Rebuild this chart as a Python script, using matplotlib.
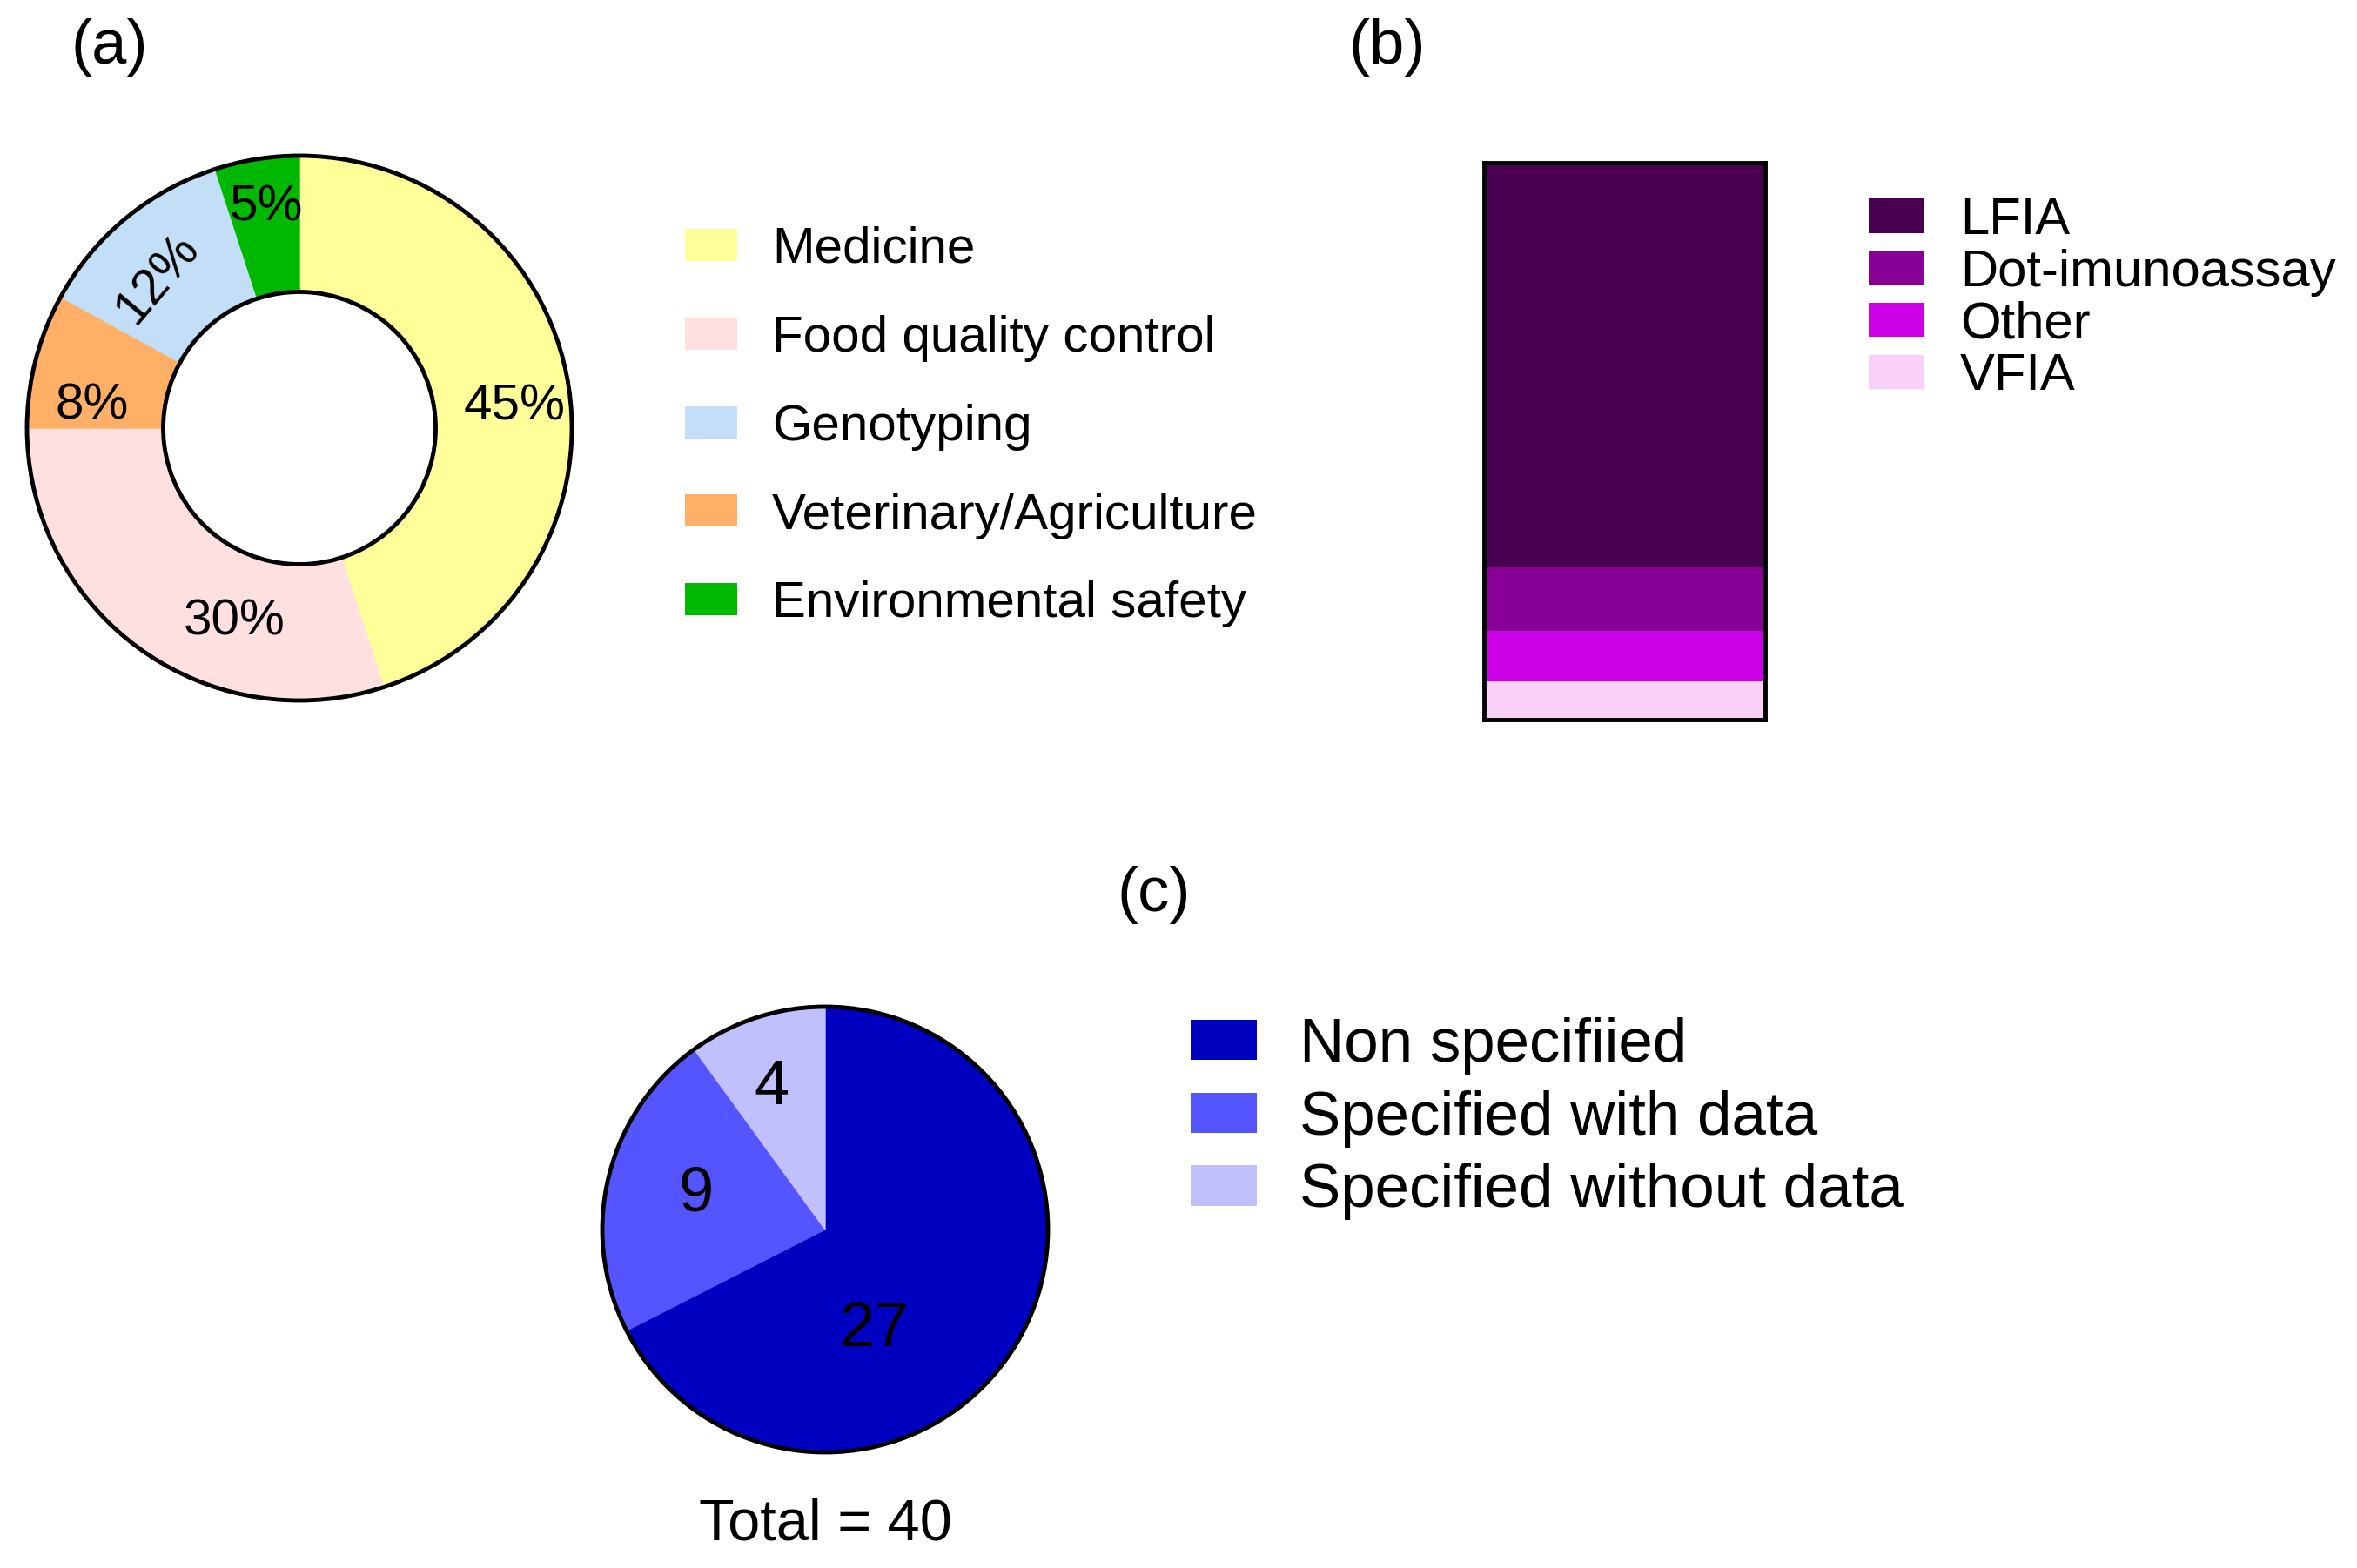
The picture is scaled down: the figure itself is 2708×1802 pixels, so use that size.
import matplotlib
matplotlib.use('Agg')
import matplotlib.pyplot as plt
from matplotlib.patches import Circle, Patch

plt.rcParams['font.family'] = ['Liberation Sans', 'DejaVu Sans']

W, H = 2708, 1802

# (a) application fields, clockwise from 12 o'clock
a_fields = ['Medicine', 'Food quality control', 'Veterinary/Agriculture',
            'Genotyping', 'Environmental safety']
a_pct = [45, 30, 8, 12, 5]
a_legend_order = ['Medicine', 'Food quality control', 'Genotyping',
                  'Veterinary/Agriculture', 'Environmental safety']
a_colors = {'Medicine': '#FFFF99', 'Food quality control': '#FFE0E0',
            'Genotyping': '#C2DFF7', 'Veterinary/Agriculture': '#FFB066',
            'Environmental safety': '#00B800'}

# (b) assay formats
b_methods = ['LFIA', 'Dot-imunoassay', 'Other', 'VFIA']
b_counts = [32, 5, 4, 3]
b_colors = ['#4A0050', '#880096', '#CC00E6', '#F8D0F8']

# (c) reporting of results
c_groups = ['Non specifiied', 'Specified with data', 'Specified without data']
c_counts = [27, 9, 4]
c_colors = ['#0000C0', '#5555FF', '#C0C0FF']

# label layout (fraction of radius), not data
a_label_xy = [(0.79, 0.077), (-0.24, -0.71), (-0.76, 0.083), (-0.52, 0.55), (-0.12, 0.81)]
a_label_rot = [0, 0, 0, 50, 0]
c_label_xy = [(0.22, -0.45), (-0.58, 0.155), (-0.24, 0.635)]

fig = plt.figure(figsize=(W / 100, H / 100), dpi=100)


def px_axes(cx, cy, half):
    return fig.add_axes([(cx - half) / W, (H - cy - half) / H, 2 * half / W, 2 * half / H])


# ---- (a) donut
r_a = 313
ax_a = px_axes(344, 492, 340)
wedges, _, autotexts = ax_a.pie(a_pct, colors=[a_colors[n] for n in a_fields],
                                startangle=90, counterclock=False, radius=1,
                                wedgeprops=dict(width=0.5), autopct='%d%%',
                                pctdistance=0.75, textprops=dict(fontsize=42))
for w in wedges:
    w.set_edgecolor(w.get_facecolor())
    w.set_linewidth(1)
for t, xy, rot in zip(autotexts, a_label_xy, a_label_rot):
    t.set_position(xy)
    t.set_rotation(rot)
ax_a.add_patch(Circle((0, 0), 1, fill=False, ec='black', lw=3.5))
ax_a.add_patch(Circle((0, 0), 0.5, fill=False, ec='black', lw=3.5))
lim = 340 / r_a
ax_a.set_xlim(-lim, lim)
ax_a.set_ylim(-lim, lim)
ax_a.set_aspect('equal')
ax_a.axis('off')

fig.legend(handles=[Patch(fc=a_colors[n], label=n) for n in a_legend_order],
           loc='upper left', bbox_to_anchor=(787 / W, 1 - 260 / H),
           bbox_transform=fig.transFigure, frameon=False, fontsize=42,
           handlelength=1.02, handleheight=0.6, handletextpad=0.69,
           labelspacing=0.82, borderpad=0, borderaxespad=0)

# ---- (b) stacked bar
ax_b = fig.add_axes([1705 / W, 1 - 827 / H, 323 / W, 640 / H])
bars = {}
bottom = 0
for name, cnt, col in reversed(list(zip(b_methods, b_counts, b_colors))):
    bars[name] = ax_b.bar(0, cnt, bottom=bottom, width=1, color=col, label=name)
    bottom += cnt
ax_b.set_xlim(-0.5, 0.5)
ax_b.set_ylim(0, sum(b_counts))
ax_b.set_xticks([])
ax_b.set_yticks([])
for s in ax_b.spines.values():
    s.set_linewidth(3.5)
    s.set_color('black')

fig.legend(handles=[bars[n] for n in b_methods], labels=b_methods,
           loc='upper left', bbox_to_anchor=(2147 / W, 1 - 226 / H),
           bbox_transform=fig.transFigure, frameon=False, fontsize=43,
           handlelength=1.07, handleheight=0.64, handletextpad=0.69,
           labelspacing=0.08, borderpad=0, borderaxespad=0)

# ---- (c) pie
r_c = 256
ax_c = px_axes(948, 1413, 300)
total = sum(c_counts)
wedges, _, autotexts = ax_c.pie(c_counts, colors=c_colors, startangle=90,
                                counterclock=False, radius=1,
                                autopct=lambda p: '%d' % round(p * total / 100),
                                textprops=dict(fontsize=52))
for w in wedges:
    w.set_edgecolor(w.get_facecolor())
    w.set_linewidth(1)
for t, xy in zip(autotexts, c_label_xy):
    t.set_position(xy)
ax_c.add_patch(Circle((0, 0), 1, fill=False, ec='black', lw=3.5))
lim = 300 / r_c
ax_c.set_xlim(-lim, lim)
ax_c.set_ylim(-lim, lim)
ax_c.set_aspect('equal')
ax_c.axis('off')

fig.legend(handles=[Patch(fc=c, label=g) for g, c in zip(c_groups, c_colors)],
           loc='upper left', bbox_to_anchor=(1368 / W, 1 - 1169 / H),
           bbox_transform=fig.transFigure, frameon=False, fontsize=51,
           handlelength=1.07, handleheight=0.63, handletextpad=0.7,
           labelspacing=0.25, borderpad=0, borderaxespad=0)

# panel letters and total
fig.text(126 / W, 1 - 55 / H, '(a)', ha='center', va='center', fontsize=52)
fig.text(1594 / W, 1 - 55 / H, '(b)', ha='center', va='center', fontsize=52)
fig.text(1326 / W, 1 - 1028 / H, '(c)', ha='center', va='center', fontsize=52)
fig.text(948 / W, 1 - 1753 / H, 'Total = %d' % total, ha='center', va='center', fontsize=48)

fig.savefig('out.png', dpi=100)
